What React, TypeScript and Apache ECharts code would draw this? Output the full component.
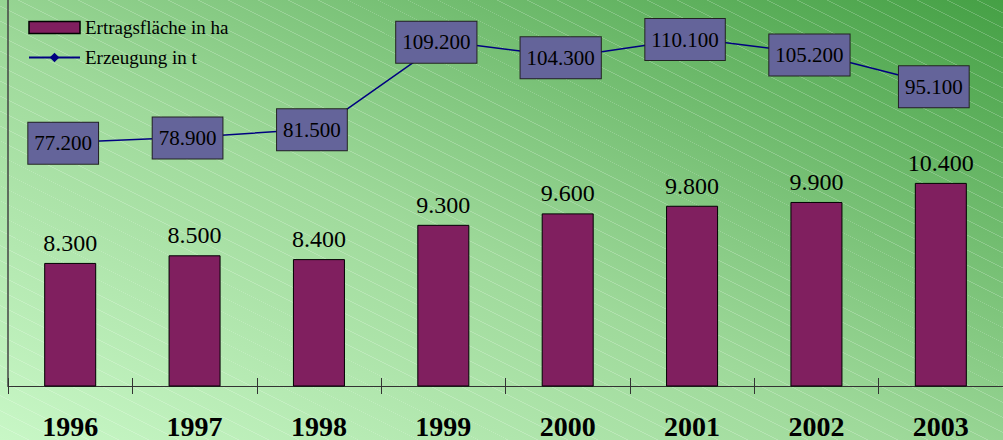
import React, { useEffect, useRef } from "react";
import * as echarts from "echarts";

const years = ["1996", "1997", "1998", "1999", "2000", "2001", "2002", "2003"];
const areaHa = [8300, 8500, 8400, 9300, 9600, 9800, 9900, 10400];
const productionT = [77200, 78900, 81500, 109200, 104300, 110100, 105200, 95100];
const seriesNames = ["Ertragsfläche in ha", "Erzeugung in t"];

const fmt = (v: number) => String(v).replace(/\B(?=(\d{3})+(?!\d))/g, ".");
const SERIF = "'Liberation Serif', 'Times New Roman', serif";

export default function App() {
  const ref = useRef<HTMLDivElement>(null);
  useEffect(() => {
    if (!ref.current) return;
    const chart = echarts.init(ref.current, undefined, { renderer: "svg" });
    chart.setOption({
      animation: false,
      backgroundColor: "transparent",
      textStyle: { fontFamily: SERIF },
      legend: {
        orient: "vertical",
        left: 28,
        top: 18,
        padding: 0,
        itemWidth: 51,
        itemHeight: 12,
        itemGap: 11,
        textStyle: { fontFamily: SERIF, fontSize: 19, color: "#000" },
        data: [
          { name: seriesNames[0], icon: "rect", itemStyle: { borderColor: "#000", borderWidth: 1.5 } },
          { name: seriesNames[1] },
        ],
      },
      grid: { left: 8, top: 0, width: 1003, height: 386 },
      xAxis: [
        {
          type: "category",
          data: years,
          boundaryGap: true,
          axisLine: { show: true, lineStyle: { color: "#333", width: 1 } },
          axisTick: { show: true, length: 8, lineStyle: { color: "#333" } },
          axisLabel: {
            fontFamily: SERIF,
            fontSize: 28,
            fontWeight: "bold",
            color: "#000",
            margin: 26,
          },
        },
        {
          type: "category",
          data: years,
          position: "bottom",
          boundaryGap: true,
          axisLine: { show: false },
          axisTick: { show: true, inside: true, length: 8, lineStyle: { color: "#333" } },
          axisLabel: { show: false },
        },
      ],
      yAxis: [
        {
          type: "value",
          min: 5070,
          max: 15200,
          axisLine: { show: true, lineStyle: { color: "#444", width: 1.5 } },
          axisTick: { show: false },
          axisLabel: { show: false },
          splitLine: { show: false },
        },
        {
          type: "value",
          min: 0,
          max: 122300,
          axisLine: { show: false },
          axisTick: { show: false },
          axisLabel: { show: false },
          splitLine: { show: false },
        },
      ],
      series: [
        {
          name: seriesNames[0],
          type: "bar",
          data: areaHa,
          xAxisIndex: 0,
          yAxisIndex: 0,
          barWidth: 52,
          itemStyle: { color: "#801f5f", borderColor: "#000", borderWidth: 1 },
          label: {
            show: true,
            position: "top",
            distance: 8,
            fontFamily: SERIF,
            fontSize: 24,
            color: "#000",
            formatter: (p: any) => fmt(p.value),
          },
        },
        {
          name: seriesNames[1],
          type: "line",
          data: productionT,
          xAxisIndex: 0,
          yAxisIndex: 1,
          symbol: "diamond",
          symbolSize: 16,
          lineStyle: { color: "#000080", width: 1.5 },
          itemStyle: { color: "#000080" },
          label: {
            show: true,
            position: "inside",
            offset: [-7, 1],
            fontFamily: SERIF,
            fontSize: 21,
            color: "#000",
            backgroundColor: "#64649a",
            borderColor: "#222",
            borderWidth: 1,
            padding: [10, 6, 10, 6],
            formatter: (p: any) => fmt(p.value),
          },
          z: 5,
        },
      ],
    });
    return () => chart.dispose();
  }, []);

  return (
    <div
      style={{
        position: "absolute",
        left: 0,
        top: 0,
        width: 1003,
        height: 440,
        overflow: "hidden",
        background:
          "repeating-linear-gradient(26.57deg, rgba(255,255,255,0) 0px, rgba(255,255,255,0) 12.6px, rgba(255,255,255,0.2) 12.6px, rgba(255,255,255,0.2) 13.4px), linear-gradient(to top right, #c8f7c6, #9ed99a 45%, #45a045)",
      }}
    >
      <div ref={ref} style={{ width: 1003, height: 440 }} />
    </div>
  );
}
